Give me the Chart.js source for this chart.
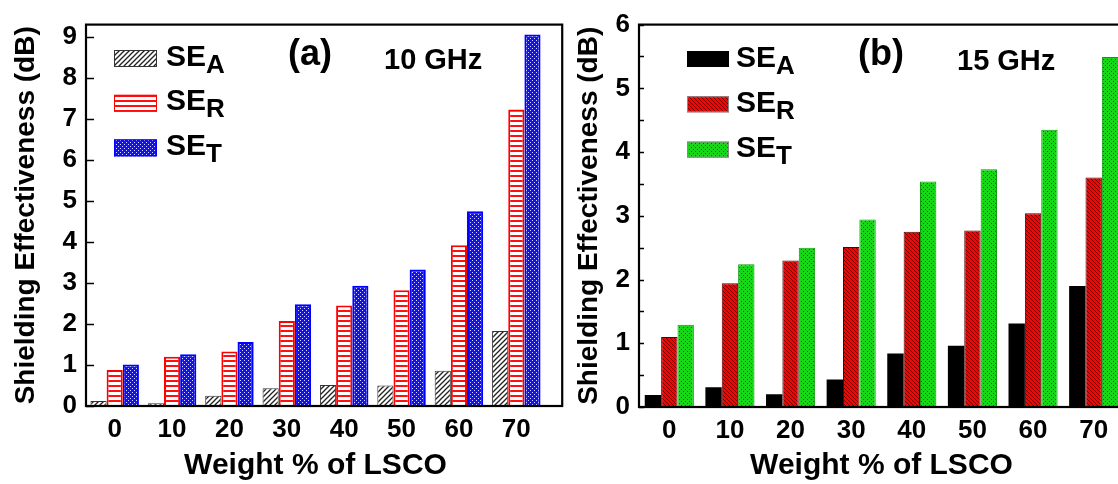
<!DOCTYPE html>
<html><head><meta charset="utf-8">
<script src="https://cdn.jsdelivr.net/npm/chart.js@4"></script>
<style>
html,body{margin:0;padding:0;background:#fff;overflow:hidden;width:1118px;height:484px;}
#wrap{position:relative;width:1118px;height:484px;overflow:hidden;}
canvas{position:absolute;top:0;}
#ca{left:0}
#cb{left:560px}
</style></head><body>
<div id="wrap"><canvas id="ca" width="580" height="484"></canvas><canvas id="cb" width="620" height="484"></canvas></div>
<script>
// ---- data ----
const categories = [0, 10, 20, 30, 40, 50, 60, 70];
const xTickLabels = ['0', '10', '20', '30', '40', '50', '60', '70'];
const seriesNames = ['A', 'R', 'T'];
// (a) 10 GHz
const a_SEA = [0.12, 0.07, 0.25, 0.43, 0.51, 0.50, 0.86, 1.83];
const a_SER = [0.88, 1.20, 1.33, 2.07, 2.45, 2.82, 3.92, 7.23];
const a_SET = [1.01, 1.26, 1.56, 2.48, 2.93, 3.33, 4.75, 9.06];
// (b) 15 GHz
const b_SEA = [0.19, 0.31, 0.20, 0.43, 0.84, 0.96, 1.31, 1.90];
const b_SER = [1.10, 1.94, 2.30, 2.51, 2.75, 2.77, 3.04, 3.60];
const b_SET = [1.29, 2.24, 2.50, 2.94, 3.54, 3.73, 4.35, 5.49];
const a_yTicks = [0, 1, 2, 3, 4, 5, 6, 7, 8, 9];
const b_yTicks = [0, 1, 2, 3, 4, 5, 6];
const b_yMinorTicks = [0.5, 1.5, 2.5, 3.5, 4.5, 5.5];

const FONT = '"Liberation Sans", Arial, Helvetica, sans-serif';
Chart.defaults.font.family = FONT;
Chart.defaults.color = '#000';

function tile(w, h, draw) {
  const c = document.createElement('canvas'); c.width = w; c.height = h;
  const g = c.getContext('2d'); draw(g, w, h); return c;
}
const pctx = document.createElement('canvas').getContext('2d');
function pat(c) { return pctx.createPattern(c, 'repeat'); }

// (a) patterns
const patHatchGray = pat(tile(5, 5, (g, w, h) => {
  g.fillStyle = '#fff'; g.fillRect(0, 0, w, h);
  g.strokeStyle = '#222'; g.lineWidth = 1.3;
  g.beginPath(); g.moveTo(-1, 6); g.lineTo(6, -1); g.stroke();
  g.beginPath(); g.moveTo(-1, 1); g.lineTo(1, -1); g.stroke();
  g.beginPath(); g.moveTo(4, 6); g.lineTo(6, 4); g.stroke();
}));
const patRedLines = pat(tile(4, 5, (g, w, h) => {
  g.fillStyle = '#fff'; g.fillRect(0, 0, w, h);
  g.fillStyle = '#ff1010'; g.fillRect(0, 0, w, 2);
}));
const patBlueDots = pat(tile(4, 4, (g, w, h) => {
  g.fillStyle = '#1010ff'; g.fillRect(0, 0, w, h);
  g.fillStyle = '#d8d8ff'; g.fillRect(0, 0, 1, 1); g.fillRect(2, 2, 1, 1);
}));
// (b) patterns
const patRedHatch = pat(tile(4, 4, (g, w, h) => {
  g.fillStyle = '#ff0000'; g.fillRect(0, 0, w, h);
  g.strokeStyle = '#7a0000'; g.lineWidth = 1;
  g.beginPath(); g.moveTo(-1, -1); g.lineTo(5, 5); g.stroke();
  g.beginPath(); g.moveTo(3, -1); g.lineTo(5, 1); g.stroke();
  g.beginPath(); g.moveTo(-1, 3); g.lineTo(1, 5); g.stroke();
}));
const patGreenDots = pat(tile(4, 4, (g, w, h) => {
  g.fillStyle = '#16d816'; g.fillRect(0, 0, w, h);
  g.fillStyle = '#0a6a0a'; g.fillRect(1, 1, 1, 1); g.fillRect(3, 3, 1, 1);
}));

const decorPlugin = {
  id: 'decor',
  afterDatasetsDraw(chart, args, o) {
    const { ctx, chartArea: { left, top, bottom }, scales: { x, y } } = chart;
    const right = x.getPixelForValue(o.frameMax);
    ctx.save();
    ctx.strokeStyle = '#000';
    ctx.lineWidth = 1.5;
    y.ticks.forEach(t => {
      const py = Math.round(y.getPixelForValue(t.value)) + 0.5;
      ctx.beginPath(); ctx.moveTo(left, py); ctx.lineTo(left + o.tickLen, py); ctx.stroke();
    });
    (o.minorTicks || []).forEach(v => {
      const py = Math.round(y.getPixelForValue(v)) + 0.5;
      ctx.beginPath(); ctx.moveTo(left, py); ctx.lineTo(left + o.minorLen, py); ctx.stroke();
    });
    ctx.lineWidth = 2.2;
    ctx.strokeRect(left, top, right - left, bottom - top);
    // legend
    const L = o.legend;
    chart.data.datasets.forEach((ds, i) => {
      const by = L.y + i * L.dy;
      ctx.fillStyle = ds.backgroundColor;
      ctx.fillRect(L.x, by, L.w, L.h);
      ctx.lineWidth = 1;
      ctx.strokeStyle = ds.legendBorder;
      ctx.strokeRect(L.x + 0.5, by + 0.5, L.w - 1, L.h - 1);
      ctx.fillStyle = '#000';
      ctx.textBaseline = 'alphabetic';
      ctx.textAlign = 'left';
      ctx.font = 'bold 30px ' + FONT;
      const base = by + 15.5;
      ctx.fillText('SE', L.tx, base);
      const w = ctx.measureText('SE').width;
      ctx.font = 'bold 26px ' + FONT;
      ctx.fillText(seriesNames[i], L.tx + w, base + 7);
    });
    // labels
    o.labels.forEach(l => {
      ctx.font = 'bold ' + l.size + 'px ' + FONT;
      ctx.fillStyle = '#000';
      ctx.textBaseline = 'alphabetic';
      ctx.textAlign = 'left';
      ctx.fillText(l.text, l.x, l.y);
    });
    ctx.restore();
  }
};

function makeChart(id, sets, cfg) {
  return new Chart(document.getElementById(id), {
    type: 'bar',
    data: {
      datasets: sets.map(s => ({
        label: 'SE' + s.name,
        data: categories.map((c, i) => ({ x: c, y: s.values[i] })),
        backgroundColor: s.bg,
        borderColor: s.border,
        borderWidth: s.bw,
        legendBorder: s.lb,
        categoryPercentage: cfg.catPct,
        barPercentage: 1.0,
        grouped: true
      }))
    },
    options: {
      responsive: false,
      animation: false,
      events: [],
      layout: { padding: { left: 0, right: cfg.padRight, top: cfg.padTop, bottom: 0 } },
      plugins: {
        legend: { display: false },
        tooltip: { enabled: false },
        decor: cfg.decor
      },
      scales: {
        x: {
          type: 'linear', min: -5, max: 75, offset: false,
          afterBuildTicks: s => { s.ticks = categories.map(v => ({ value: v })); },
          afterFit: s => { s.height = cfg.xHeight; },
          grid: { display: false, drawTicks: false, offset: false },
          border: { display: false },
          ticks: {
            autoSkip: false, maxRotation: 0, padding: 8,
            font: { size: 26, weight: 'bold' }, color: '#000',
            callback: (v) => xTickLabels[categories.indexOf(v)]
          },
          title: { display: true, text: 'Weight % of LSCO', font: { size: 30, weight: 'bold' }, color: '#000', padding: { top: 0, bottom: 0 } }
        },
        y: {
          min: 0, max: cfg.yMax,
          afterBuildTicks: s => { s.ticks = cfg.yTicks.map(v => ({ value: v })); },
          afterFit: s => { s.width = cfg.yWidth; },
          grid: { display: false, drawTicks: false },
          border: { display: false },
          ticks: { padding: 9, font: { size: 26, weight: 'bold' }, color: '#000', callback: v => String(v) },
          title: { display: true, text: 'Shielding Effectiveness (dB)', font: { size: 28, weight: 'bold' }, color: '#000', padding: { top: cfg.yTitlePad, bottom: 0 } }
        }
      }
    },
    plugins: [decorPlugin]
  });
}

makeChart('ca', [
  { name: 'A', values: a_SEA, bg: patHatchGray, border: '#333', bw: 1, lb: '#333' },
  { name: 'R', values: a_SER, bg: patRedLines, border: '#ff0000', bw: 2, lb: '#ff0000' },
  { name: 'T', values: a_SET, bg: patBlueDots, border: '#0000ff', bw: 2, lb: '#0000ff' }
], {
  catPct: 0.845, padRight: 35, padTop: 20, xHeight: 78, yWidth: 86, yMax: 9.3, yTicks: a_yTicks, yTitlePad: 9,
  decor: {
    frameMax: 78, tickLen: 8, minorTicks: [], minorLen: 0,
    legend: { x: 114, y: 50, dy: 44.7, w: 43, h: 17, tx: 166 },
    labels: [{ text: '(a)', x: 288, y: 65, size: 36 }, { text: '10 GHz', x: 384, y: 69, size: 29 }]
  }
});

makeChart('cb', [
  { name: 'A', values: b_SEA, bg: '#000000', border: '#000', bw: 0, lb: '#000' },
  { name: 'R', values: b_SER, bg: patRedHatch, border: '#5a0000', bw: 1, lb: '#888' },
  { name: 'T', values: b_SET, bg: patGreenDots, border: '#0f9a0f', bw: 1, lb: '#888' }
], {
  catPct: 0.81, padRight: 56, padTop: 21, xHeight: 77, yWidth: 79, yMax: 6, yTicks: b_yTicks, yTitlePad: 12,
  decor: {
    frameMax: 78, tickLen: 5, minorTicks: b_yMinorTicks, minorLen: 5,
    legend: { x: 127, y: 51, dy: 45.3, w: 42, h: 16, tx: 176 },
    labels: [{ text: '(b)', x: 298, y: 65, size: 36 }, { text: '15 GHz', x: 397, y: 70, size: 29 }]
  }
});
</script>
</body></html>
